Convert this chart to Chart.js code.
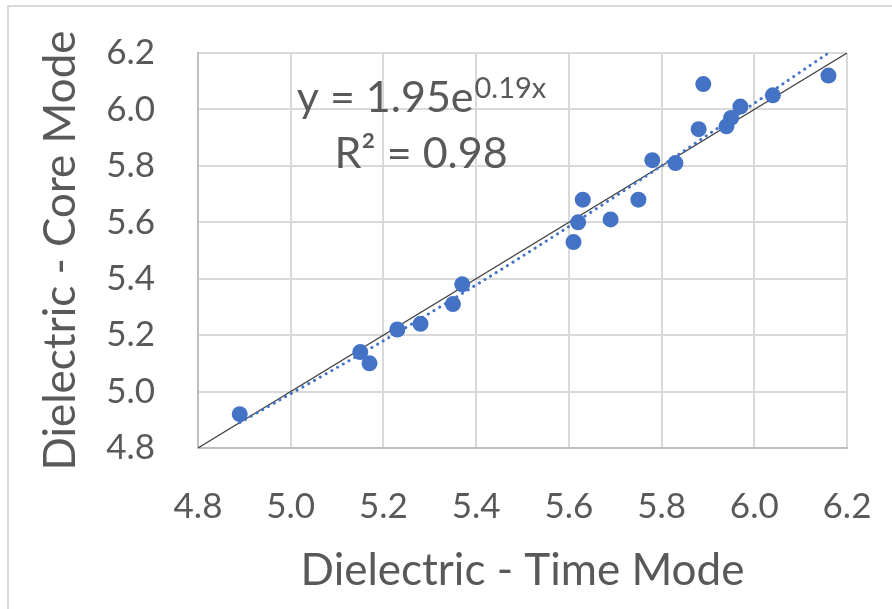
<!DOCTYPE html>
<html>
<head>
<meta charset="utf-8">
<script src="https://cdn.jsdelivr.net/npm/chart.js@4.4.0/dist/chart.umd.min.js"></script>
<style>
  html, body { margin: 0; padding: 0; background: #fff; }
  #wrap { width: 892px; height: 609px; }
</style>
</head>
<body>
<div id="wrap"><canvas id="chart" width="892" height="609"></canvas></div>
<script>
// Values
const timeMode = [4.89, 5.15, 5.17, 5.23, 5.28, 5.35, 5.37, 5.61, 5.62, 5.63, 5.69,
                  5.75, 5.78, 5.83, 5.88, 5.89, 5.94, 5.95, 5.97, 6.04, 6.16];
const coreMode = [4.92, 5.14, 5.10, 5.22, 5.24, 5.31, 5.38, 5.53, 5.60, 5.68, 5.61,
                  5.68, 5.82, 5.81, 5.93, 6.09, 5.94, 5.97, 6.01, 6.05, 6.12];

// dotted exponential trendline
const trendX = [4.89, 5.20, 5.50, 5.80, 6.16];
const trendY = [4.89, 5.18, 5.48, 5.80, 6.20];

// 1:1 line
const equalX = [4.8, 6.2];
const equalY = [4.8, 6.2];

const axisMin = 4.8;
const axisMax = 6.2;
const axisStep = 0.2;

const eqLine1 = 'y = 1.95e';
const eqSup = '0.19x';
const eqLine2 = 'R² = 0.98';

const textColor = '#595959';
const fontFamily = 'Lato, "Open Sans", sans-serif';

const toPoints = (xs, ys) => xs.map((x, i) => ({x: x, y: ys[i]}));

// grey frame at left/top like the cropped screenshot
const framePlugin = {
    id: 'frame',
    beforeDraw(chart) {
        const ctx = chart.ctx;
        ctx.save();
        ctx.strokeStyle = '#d9d9d9';
        ctx.lineWidth = 2;
        ctx.beginPath();
        ctx.moveTo(8, 609);
        ctx.lineTo(8, 6);
        ctx.lineTo(892, 6);
        ctx.stroke();
        ctx.restore();
    }
};

// trendline equation label
const equationPlugin = {
    id: 'equation',
    afterDatasetsDraw(chart) {
        const ctx = chart.ctx;
        const area = chart.chartArea;
        const cx = area.left + 223;
        ctx.save();
        ctx.fillStyle = textColor;
        ctx.textBaseline = 'alphabetic';
        ctx.textAlign = 'left';

        ctx.font = '43px ' + fontFamily;
        const w1 = ctx.measureText(eqLine1).width;
        ctx.font = '29px ' + fontFamily;
        const wSup = ctx.measureText(eqSup).width;
        const x1 = cx - (w1 + wSup) / 2;
        ctx.font = '43px ' + fontFamily;
        ctx.fillText(eqLine1, x1, area.top + 59);
        ctx.font = '29px ' + fontFamily;
        ctx.fillText(eqSup, x1 + w1 + 1, area.top + 45);

        ctx.font = '43px ' + fontFamily;
        const w2 = ctx.measureText(eqLine2).width;
        ctx.fillText(eqLine2, cx - w2 / 2, area.top + 115);
        ctx.restore();
    }
};

const ctx = document.getElementById('chart').getContext('2d');
new Chart(ctx, {
    type: 'scatter',
    data: {
        datasets: [
            {
                label: 'Core vs Time',
                data: toPoints(timeMode, coreMode),
                backgroundColor: '#4472C4',
                borderColor: '#4472C4',
                borderWidth: 0,
                pointRadius: 8,
                order: 0
            },
            {
                label: 'Trend',
                data: toPoints(trendX, trendY),
                showLine: true,
                borderColor: '#4472C4',
                borderWidth: 3,
                borderDash: [0.1, 6.5],
                borderCapStyle: 'round',
                tension: 0.3,
                pointRadius: 0,
                order: 1
            },
            {
                label: '1:1',
                data: toPoints(equalX, equalY),
                showLine: true,
                borderColor: '#404040',
                borderWidth: 1.2,
                pointRadius: 0,
                order: 2
            }
        ]
    },
    options: {
        responsive: false,
        animation: false,
        layout: {padding: {left: 34, top: 53, right: 45, bottom: 12}},
        plugins: {
            legend: {display: false},
            tooltip: {enabled: false}
        },
        scales: {
            x: {
                type: 'linear',
                min: axisMin,
                max: axisMax,
                afterFit: (scale) => {
                    scale.height = 149;
                    scale.paddingLeft = 0;
                    scale.paddingRight = 0;
                },
                ticks: {
                    stepSize: axisStep,
                    callback: (v) => v.toFixed(1),
                    font: {family: fontFamily, size: 35},
                    color: textColor,
                    padding: 38,
                    maxRotation: 0
                },
                grid: {color: '#d9d9d9', lineWidth: 2, drawTicks: false},
                border: {color: '#bfbfbf', width: 2},
                title: {
                    display: true,
                    text: 'Dielectric - Time Mode',
                    font: {family: fontFamily, size: 44},
                    color: textColor,
                    padding: 0
                }
            },
            y: {
                type: 'linear',
                min: axisMin,
                max: axisMax,
                afterFit: (scale) => {
                    scale.width = 164;
                    scale.paddingTop = 0;
                    scale.paddingBottom = 0;
                },
                ticks: {
                    stepSize: axisStep,
                    callback: (v) => v.toFixed(1),
                    font: {family: fontFamily, size: 35},
                    color: textColor,
                    padding: 43
                },
                grid: {color: '#d9d9d9', lineWidth: 2, drawTicks: false},
                border: {color: '#bfbfbf', width: 2},
                title: {
                    display: true,
                    text: 'Dielectric - Core Mode',
                    font: {family: fontFamily, size: 44},
                    color: textColor,
                    padding: 0
                }
            }
        }
    },
    plugins: [framePlugin, equationPlugin]
});
</script>
</body>
</html>
